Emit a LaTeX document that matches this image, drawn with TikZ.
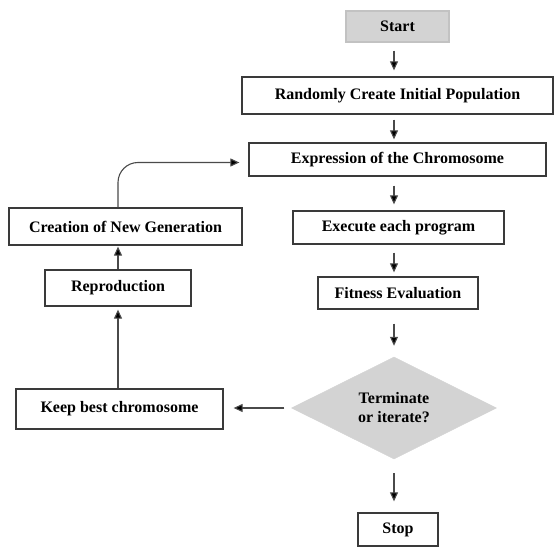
\documentclass[tikz,border=0pt]{standalone}
\usepackage{fontspec}
\setmainfont{Liberation Serif}
\usetikzlibrary{shapes.geometric,arrows.meta}
\definecolor{boxline}{HTML}{3A3A3A}
\definecolor{arrline}{HTML}{4A4A4A}
\definecolor{lightfill}{HTML}{D3D3D3}
\tikzset{
  stepbox/.style={draw=boxline, line width=1.3pt, fill=white, inner sep=0pt,
    font=\fontsize{16}{19}\selectfont\bfseries, align=center},
  startbox/.style={stepbox, draw=lightfill!80!gray, fill=lightfill},
  decision/.style={diamond, fill=lightfill, draw=lightfill, inner sep=0pt,
    minimum width=205pt, minimum height=102pt, aspect=2,
    font=\fontsize{16}{19}\selectfont\bfseries, align=center},
  arr/.style={draw=arrline, line width=1.1pt, -{Triangle[length=9pt,width=8pt,fill=black]}},
}
\begin{document}
\begin{tikzpicture}[x=1pt,y=-1pt]
\useasboundingbox (0,0) rectangle (555,548);
\node[startbox, minimum width=103pt, minimum height=31pt] (start) at (397.5,26.5) {Start};
\node[stepbox, minimum width=311pt, minimum height=37pt] (random) at (397.5,95.5) {Randomly Create Initial Population};
\node[stepbox, minimum width=297pt, minimum height=33pt] (expr) at (397.5,159.5) {Expression of the Chromosome};
\node[stepbox, minimum width=211pt, minimum height=33pt] (exec) at (398.5,227.5) {Execute each program};
\node[stepbox, minimum width=160pt, minimum height=32pt] (fit) at (398,293) {Fitness Evaluation};
\node[decision] (dia) at (394,408) {Terminate\\or iterate?};
\node[stepbox, minimum width=80pt, minimum height=33pt] (stop) at (398,529.5) {Stop};
\node[stepbox, minimum width=207pt, minimum height=40pt] (keep) at (119.5,409) {Keep best chromosome};
\node[stepbox, minimum width=146pt, minimum height=36pt] (repro) at (118,288) {Reproduction};
\node[stepbox, minimum width=233pt, minimum height=37pt] (create) at (125.5,226.5) {Creation of New Generation};

\draw[arr, shorten <=8pt, shorten >=6pt] (start.south -| dia.center) -- (random.north -| dia.center);
\draw[arr, shorten <=5pt, shorten >=3pt] (random.south -| dia.center) -- (expr.north -| dia.center);
\draw[arr, shorten <=9pt, shorten >=6pt] (expr.south -| dia.center) -- (exec.north -| dia.center);
\draw[arr, shorten <=8pt, shorten >=4pt] (exec.south -| dia.center) -- (fit.north -| dia.center);
\draw[arr, shorten <=14pt, shorten >=11pt] (fit.south -| dia.center) -- (dia.north);
\draw[arr, shorten <=14pt, shorten >=11pt] (dia.south) -- (stop.north -| dia.center);
\draw[arr, shorten <=7pt, shorten >=10pt] (dia.west) -- (dia.west -| keep.east);
\draw[arr, shorten >=3pt] (keep.north -| repro.center) -- (repro.south);
\draw[arr, shorten >=1pt] (repro.north) -- (create.south -| repro.center);
\draw[arr, rounded corners=20pt, shorten >=9pt] (create.north -| repro.center) |- ([yshift=-3pt]expr.west);
\end{tikzpicture}
\end{document}
